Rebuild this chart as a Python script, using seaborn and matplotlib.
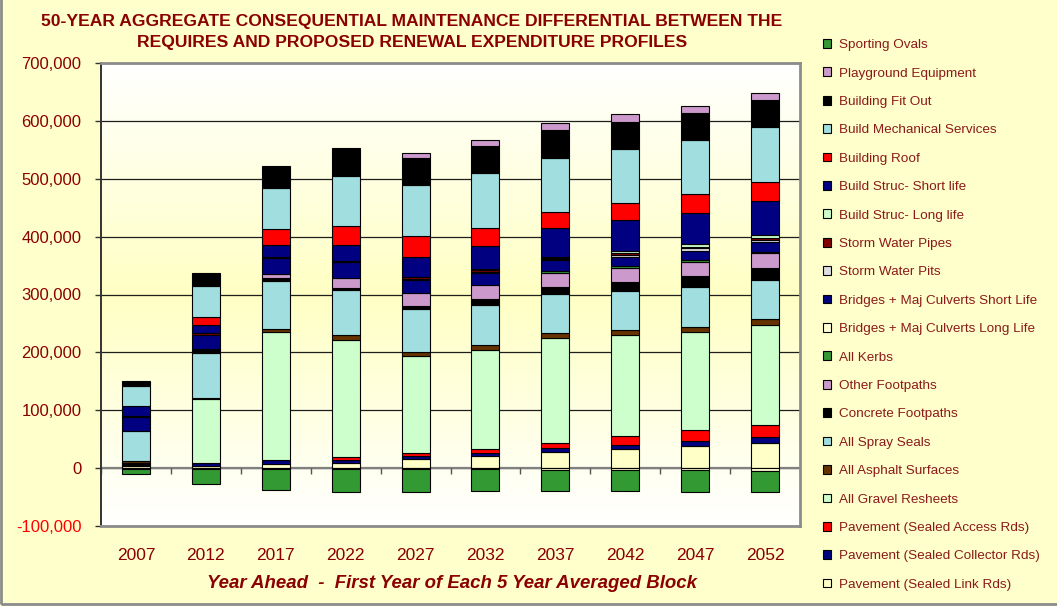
import numpy as np
import pandas as pd
import matplotlib
matplotlib.use("Agg")
import matplotlib.pyplot as plt
import seaborn as sns
from matplotlib.patches import Patch, Rectangle
from matplotlib.ticker import FuncFormatter, MultipleLocator
from matplotlib.colors import LinearSegmentedColormap
from matplotlib import font_manager

# ---- data (dollars, 5-year averaged blocks) ----
years = ["2007", "2012", "2017", "2022", "2027", "2032", "2037", "2042", "2047", "2052"]

# stacked bottom to top
pavement_link_rds = [3000, 3000, 7000, 9700, 15500, 21000, 27000, 32800, 39000, 43200]
pavement_collector_rds = [3000, 5000, 7500, 4500, 5700, 5700, 7500, 7500, 8600, 10400]
pavement_access_rds = [500, 1000, 0, 5000, 5000, 6000, 9700, 14400, 18400, 21300]
gravel_resheets = [3000, 110000, 221000, 203000, 168000, 172000, 180000, 174500, 170000, 172800]
asphalt_surfaces = [3000, 2000, 5000, 7000, 7000, 8000, 8600, 8600, 8600, 9800]
spray_seals = [52000, 78000, 83500, 78000, 73000, 70000, 68000, 69000, 69000, 67400]
concrete_footpaths = [0, 7000, 4000, 4600, 5700, 10000, 12700, 14400, 18400, 20700]
other_footpaths = [0, 0, 7500, 17000, 23000, 23000, 24000, 24800, 24800, 25300]
kerbs = [0, 0, 0, 0, 0, 0, 3000, 3000, 3000, 2500]
bridges_long_life = [-1000, -1000, -1500, -2000, -2000, -2000, -3000, -4000, -4000, -5000]
bridges_short_life = [23000, 24000, 27500, 27500, 23000, 21000, 19000, 15400, 16000, 17000]
storm_water_pits = [0, 0, 0, 0, 1500, 2000, 2000, 4000, 4000, 4000]
storm_water_pipes = [2000, 3000, 2000, 2000, 3000, 3000, 2000, 4000, 2000, 3000]
build_struc_long = [0, 0, 0, 0, 0, 2000, 1700, 3500, 5800, 5700]
build_struc_short = [17000, 15000, 20000, 27000, 34500, 40000, 49000, 52000, 54000, 57800]
building_roof = [0, 12700, 27600, 33000, 36000, 32000, 29000, 31000, 32000, 33700]
build_mech_services = [35000, 54000, 71200, 86500, 89000, 94000, 93000, 92000, 93000, 94700]
building_fit_out = [8600, 23000, 35700, 46000, 46000, 46600, 48500, 47800, 47800, 47200]
playground_equipment = [0, 0, 3000, 3000, 8000, 11000, 11500, 12700, 11500, 11500]
sporting_ovals = [-9000, -26000, -37000, -40000, -40000, -38000, -36000, -35000, -37000, -36000]

series = [
    ("Pavement (Sealed Link Rds)", pavement_link_rds, "#FFFFC8"),
    ("Pavement (Sealed Collector Rds)", pavement_collector_rds, "#000080"),
    ("Pavement (Sealed Access Rds)", pavement_access_rds, "#FF0000"),
    ("All Gravel Resheets", gravel_resheets, "#CCFFCC"),
    ("All Asphalt Surfaces", asphalt_surfaces, "#663300"),
    ("All Spray Seals", spray_seals, "#A0DEE0"),
    ("Concrete Footpaths", concrete_footpaths, "#000000"),
    ("Other Footpaths", other_footpaths, "#CC99CC"),
    ("All Kerbs", kerbs, "#339933"),
    ("Bridges + Maj Culverts Long Life", bridges_long_life, "#FFFFD8"),
    ("Bridges + Maj Culverts Short Life", bridges_short_life, "#000080"),
    ("Storm Water Pits", storm_water_pits, "#DDDDE4"),
    ("Storm Water Pipes", storm_water_pipes, "#800000"),
    ("Build Struc- Long life", build_struc_long, "#CCFFCC"),
    ("Build Struc- Short life", build_struc_short, "#000080"),
    ("Building Roof", building_roof, "#FF0000"),
    ("Build Mechanical Services", build_mech_services, "#A0DEE0"),
    ("Building Fit Out", building_fit_out, "#000000"),
    ("Playground Equipment", playground_equipment, "#CC99CC"),
    ("Sporting Ovals", sporting_ovals, "#339933"),
]

DARK_RED = "#8B0000"

sns.set_theme(style="white")
plt.rcParams["font.family"] = ["Liberation Sans", "DejaVu Sans"]

available = {f.name for f in font_manager.fontManager.ttflist}
if "Liberation Sans Narrow" in available:
    title_family, title_size = ["Liberation Sans Narrow", "Liberation Sans"], 14.5
else:
    title_family, title_size = ["Liberation Sans", "DejaVu Sans"], 12.6

fig = plt.figure(figsize=(10.57, 6.06), dpi=100, facecolor="#FFFFCC")
ax = fig.add_axes([101 / 1057, 80 / 606, 699 / 1057, 463 / 606])

# plot-area fill: white at top and bottom, pale yellow through the middle
grad = np.concatenate([np.linspace(0, 1, 200), np.linspace(1, 0, 200)]).reshape(-1, 1)
fill_cmap = LinearSegmentedColormap.from_list("plotfill", ["#FFFFFF", "#FFFFC4"])
ax.imshow(grad, extent=[0, 1, 0, 1], transform=ax.transAxes, aspect="auto",
          cmap=fill_cmap, zorder=0, interpolation="bilinear")

# stacked bars: positives build up from zero, negatives build down from zero
n = len(years)
pos_base = np.zeros(n)
neg_base = np.zeros(n)
for name, vals, col in series:
    v = np.asarray(vals, dtype=float)
    bottom = np.where(v >= 0, pos_base, neg_base)
    keep = v != 0
    if keep.any():
        sub = pd.DataFrame({"year": np.array(years)[keep], "value": v[keep]})
        sns.barplot(data=sub, x="year", y="value", order=years, bottom=bottom[keep],
                    color=col, saturation=1, width=0.4, edgecolor="#000000",
                    linewidth=0.8, errorbar=None, ax=ax, zorder=3)
    pos_base += np.clip(v, 0, None)
    neg_base += np.clip(v, None, 0)

ax.set_xlim(-0.5, n - 0.5)
ax.set_ylim(-100000, 700000)
ax.yaxis.set_major_locator(MultipleLocator(100000))
ax.yaxis.set_major_formatter(FuncFormatter(lambda val, pos: f"{val:,.0f}"))
ax.grid(axis="y", color="#1E1E1E", linewidth=0.9)
ax.grid(axis="x", visible=False)
ax.set_axisbelow(True)

# category axis drawn along the zero line, with ticks between blocks
ax.axhline(0, color="#808080", linewidth=1.6, zorder=2)
ax.vlines(np.arange(n + 1) - 0.5, -10000, 0, color="#555555", linewidth=1.0, zorder=2)

ax.tick_params(axis="x", length=0, pad=16, labelsize=12.5, labelcolor=DARK_RED)
ax.tick_params(axis="y", left=True, length=4, width=1, color="#333333",
               pad=10, labelsize=12, labelcolor=DARK_RED)
for lbl, val in zip(ax.get_yticklabels(), ax.get_yticks()):
    if val < 0:
        lbl.set_color("#FF0000")

for side in ["top", "right", "bottom"]:
    ax.spines[side].set_color("#8C8C8C")
    ax.spines[side].set_linewidth(2)
ax.spines["left"].set_color("#333333")
ax.spines["left"].set_linewidth(1.4)

ax.set_xlabel("Year Ahead  -  First Year of Each 5 Year Averaged Block",
              fontsize=13.4, fontweight="bold", fontstyle="italic", color=DARK_RED)
ax.xaxis.set_label_coords(351 / 699, -(583 - 526) / 463)
ax.xaxis.label.set_va("center")
ax.set_ylabel("")

fig.text(412 / 1057, 1 - 32 / 606,
         "50-YEAR AGGREGATE CONSEQUENTIAL MAINTENANCE DIFFERENTIAL BETWEEN THE\n"
         "REQUIRES AND PROPOSED RENEWAL EXPENDITURE PROFILES",
         ha="center", va="center", multialignment="center", linespacing=1.58,
         fontsize=title_size, fontweight="bold", color=DARK_RED, family=title_family)

handles = [Patch(facecolor=c, edgecolor="#000000", linewidth=0.8, label=name)
           for name, _, c in reversed(series)]
fig.legend(handles=handles, loc="upper left", bbox_to_anchor=(823 / 1057, 1 - 39 / 606),
           frameon=False, fontsize=9.7, labelcolor="#8B1A1A", handlelength=0.62,
           handleheight=0.62, handletextpad=0.55, labelspacing=1.21,
           borderpad=0, borderaxespad=0)

# chart frame
fig.add_artist(Rectangle((0.0012, 0.003), 1.5, 1.5, transform=fig.transFigure,
                         fill=False, edgecolor="#8C8C8C", linewidth=2))

fig.savefig("out.png", dpi=100, facecolor=fig.get_facecolor())
